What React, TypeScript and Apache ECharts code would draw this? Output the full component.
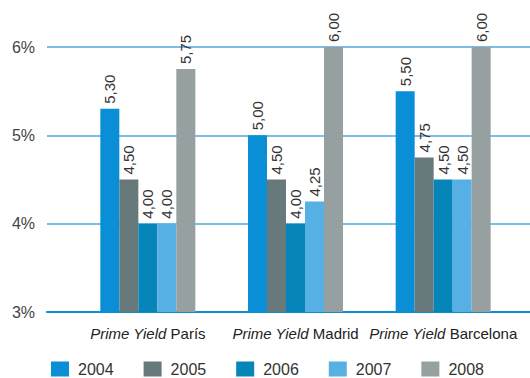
import React, { useEffect, useRef } from "react";
import * as echarts from "echarts";

// Prime yield (%) by city and year
const cities = ["París", "Madrid", "Barcelona"];
const years = ["2004", "2005", "2006", "2007", "2008"];
const yield2004 = [5.3, 5.0, 5.5];
const yield2005 = [4.5, 4.5, 4.75];
const yield2006 = [4.0, 4.0, 4.5];
const yield2007 = [4.0, 4.25, 4.5];
const yield2008 = [5.75, 6.0, 6.0];
const yTicks = [3, 4, 5, 6];

const seriesValues = [yield2004, yield2005, yield2006, yield2007, yield2008];
const colors = ["#0a8fd6", "#68797b", "#0585b8", "#56b0e3", "#97a0a1"];

const FONT = "Liberation Sans, Arial, sans-serif";

export default function App() {
  const ref = useRef<HTMLDivElement>(null);

  useEffect(() => {
    if (!ref.current) return;
    const chart = echarts.init(ref.current, null, { renderer: "svg" });

    const option = {
      animation: false,
      backgroundColor: "#ffffff",
      textStyle: { fontFamily: FONT },
      legend: {
        data: years,
        left: 51,
        top: 361,
        padding: 0,
        icon: "rect",
        itemWidth: 18,
        itemHeight: 15,
        itemGap: 30,
        textStyle: {
          fontSize: 16,
          lineHeight: 15,
          color: "#333333",
          fontFamily: FONT,
          padding: [0, 0, 0, 4],
        },
      },
      grid: [
        // bars
        { left: 74, right: 13, top: 47, bottom: 66 },
        // percentage scale and guide lines across the full width
        { left: 47, right: 0, top: 47, bottom: 66 },
      ],
      xAxis: [
        {
          type: "category",
          gridIndex: 0,
          data: cities,
          axisLine: { show: false },
          axisTick: { show: false },
          axisLabel: {
            interval: 0,
            hideOverlap: false,
            margin: 14,
            fontSize: 15,
            color: "#222222",
            fontFamily: FONT,
            formatter: (v: string) => `{i|Prime Yield} ${v}`,
            rich: {
              i: { fontStyle: "italic", fontSize: 15, color: "#222222", fontFamily: FONT },
            },
          },
        },
        {
          type: "category",
          gridIndex: 1,
          data: [""],
          axisLine: { show: true, lineStyle: { color: "#0e8fd5", width: 2 } },
          axisTick: { show: false },
          axisLabel: { show: false },
        },
      ],
      yAxis: [
        {
          type: "value",
          gridIndex: 0,
          min: yTicks[0],
          max: yTicks[yTicks.length - 1],
          interval: 1,
          show: false,
          splitLine: { show: false },
        },
        {
          type: "value",
          gridIndex: 1,
          min: yTicks[0],
          max: yTicks[yTicks.length - 1],
          interval: 1,
          axisLine: { show: false },
          axisTick: { show: false },
          axisLabel: {
            margin: 12,
            fontSize: 16,
            color: "#444444",
            fontFamily: FONT,
            formatter: (v: number) => `${v}%`,
          },
          splitLine: { show: true, lineStyle: { color: "#4ea9e0", width: 1.5 } },
        },
      ],
      series: years.map((y, i) => ({
        name: y,
        type: "bar",
        xAxisIndex: 0,
        yAxisIndex: 0,
        data: seriesValues[i],
        barWidth: 19,
        barGap: "0%",
        itemStyle: { color: colors[i] },
        label: {
          show: true,
          position: "top",
          distance: 5,
          rotate: 90,
          align: "left",
          verticalAlign: "middle",
          fontSize: 15,
          color: "#333333",
          fontFamily: FONT,
          formatter: (p: any) => Number(p.value).toFixed(2).replace(".", ","),
        },
      })),
    };

    chart.setOption(option as any);
    return () => chart.dispose();
  }, []);

  return (
    <div
      ref={ref}
      style={{ position: "absolute", left: 0, top: 0, width: 530, height: 378 }}
    />
  );
}
